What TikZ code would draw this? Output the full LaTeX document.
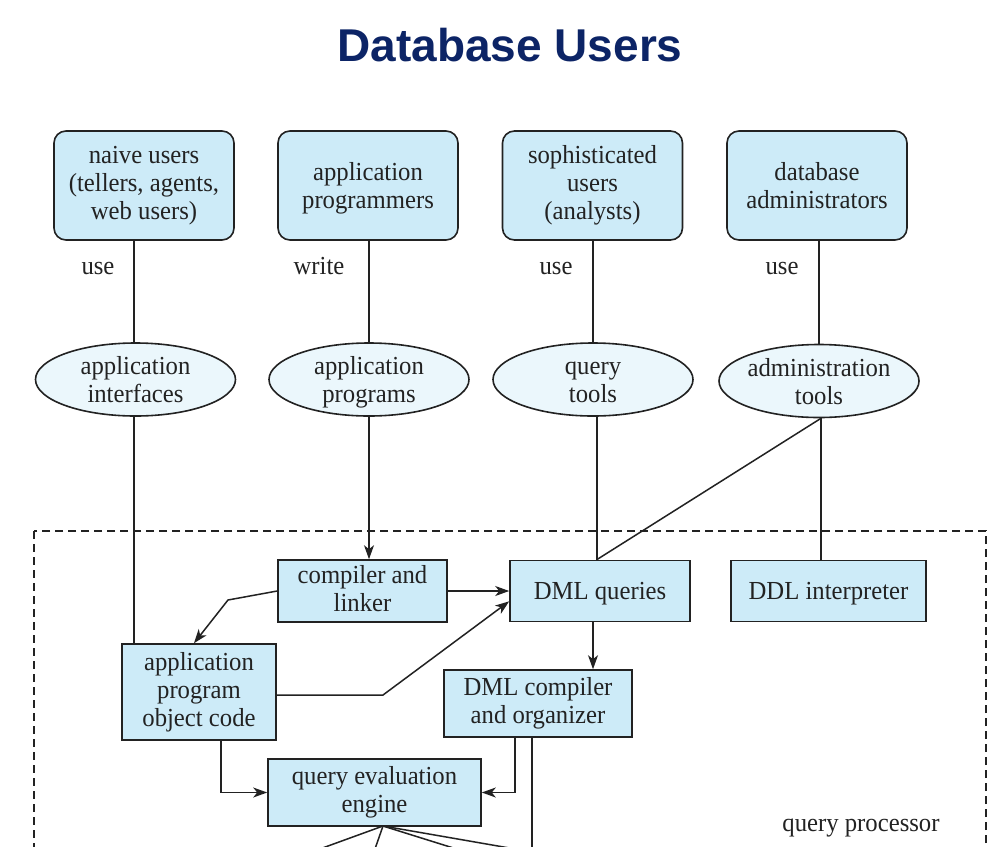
\documentclass[tikz,border=0pt]{standalone}
\usepackage{fontspec}
\setmainfont{Liberation Serif}[FakeStretch=0.95]
\newfontfamily\titlefont{Liberation Sans}
\usetikzlibrary{shapes.geometric,arrows.meta}
\definecolor{titleblue}{RGB}{12,36,102}
\definecolor{boxfill}{RGB}{205,235,248}
\definecolor{ellfill}{RGB}{235,247,252}
\definecolor{ink}{RGB}{34,34,34}
\tikzset{
  txt/.style={font=\fontsize{26}{28}\selectfont, text=ink, align=center},
  sone/.style={execute at begin node={\rule{0pt}{23pt}}, execute at end node={\rule[-6pt]{0pt}{6pt}}},
  stwo/.style={execute at begin node={\rule{0pt}{52pt}}, execute at end node={\rule[-6pt]{0pt}{6pt}}},
  stwob/.style={execute at begin node={\rule{0pt}{48pt}}, execute at end node={\rule[-8pt]{0pt}{8pt}}},
  sthree/.style={execute at begin node={\rule{0pt}{76pt}}, execute at end node={\rule[-8pt]{0pt}{8pt}}},
  userbox/.style={txt, draw=ink, line width=1.6pt, fill=boxfill, rounded corners=12pt, minimum width=180pt, minimum height=109pt, inner sep=0pt},
  toolell/.style={txt, stwo, ellipse, draw=ink, line width=1.6pt, fill=ellfill, minimum width=200pt, minimum height=73pt, inner xsep=-10pt, inner ysep=-8pt},
  procbox/.style={txt, draw=ink, line width=1.6pt, fill=boxfill, inner sep=0pt},
  conn/.style={draw=ink, line width=1.5pt},
  arr/.style={conn, -{Stealth[length=14pt,width=10pt,inset=4pt]}},
  lbl/.style={txt, sone, inner sep=0pt},
}
\begin{document}
\begin{tikzpicture}[x=1pt,y=-1pt]
\useasboundingbox (0,0) rectangle (995,846);
\clip (0,0) rectangle (995,846);
\fill[white] (0,0) rectangle (995,846);

\node[font=\titlefont\bfseries\fontsize{46}{50}\selectfont, text=titleblue] (title) at (510,45) {Database Users};

% user boxes
\node[userbox, sthree] (naive) at (144,185.5) {naive users\\(tellers, agents,\\web users)};
\node[userbox, stwo] (aprogrammers) at (368,185.5) {application\\programmers};
\node[userbox, sthree] (soph) at (592.5,185.5) {sophisticated\\users\\(analysts)};
\node[userbox, stwo] (dba) at (817,185.5) {database\\administrators};

% labels
\node[lbl] (use1) at (98,265.5) {use};
\node[lbl] (write) at (319,265.5) {write};
\node[lbl] (use2) at (556,265.5) {use};
\node[lbl] (use3) at (782,265.5) {use};

% ellipses
\node[toolell] (appint) at (135.5,379.5) {application\\interfaces};
\node[toolell] (appprog) at (369,379.5) {application\\programs};
\node[toolell] (qtools) at (593,379.5) {query\\tools};
\node[toolell] (admin) at (819,381) {administration\\tools};

% query processor region
\draw[ink, line width=1.4pt, dash pattern=on 8pt off 5pt] (34,531) rectangle (986,900);
\node[lbl] (qp) at (861,823.2) {query processor};

% processing boxes
\node[procbox, stwob, minimum width=169pt, minimum height=62pt] (compiler) at (362.5,591) {compiler and\\linker};
\node[procbox, sone, minimum width=180pt, minimum height=61pt] (dmlq) at (600,590.8) {DML queries};
\node[procbox, sone, minimum width=195pt, minimum height=61pt] (ddl) at (828.5,590.8) {DDL interpreter};
\node[procbox, sthree, minimum width=154pt, minimum height=96pt] (appobj) at (199,692) {application\\program\\object code};
\node[procbox, stwob, minimum width=188pt, minimum height=67pt] (dmlc) at (538,703.5) {DML compiler\\and organizer};
\node[procbox, stwob, minimum width=213pt, minimum height=67pt] (qeval) at (374.5,792.5) {query evaluation\\engine};

% connectors top
\draw[conn] ([xshift=-1.5pt]appint.north |- naive.south) -- ([xshift=-1.5pt]appint.north);
\draw[conn] (aprogrammers.south -| appprog.north) -- (appprog.north);
\draw[conn] (soph.south -| qtools.north) -- (qtools.north);
\draw[conn] (dba.south -| admin.north) -- (admin.north);

\draw[conn] ([xshift=-1.5pt]appint.south) -- ([xshift=-1.5pt]appint.south |- appobj.north);
\draw[arr] (appprog.south) -- (appprog.south |- compiler.north);
\draw[conn] ([xshift=4pt]qtools.south) -- ([xshift=4pt]qtools.south |- dmlq.north);
\draw[conn] ([xshift=2pt]admin.south) -- ([xshift=2pt]admin.south |- ddl.north);
\draw[conn] ([xshift=2pt]admin.south) -- ([xshift=4pt]qtools.south |- dmlq.north);

% inside
\draw[arr] (compiler.east) -- (dmlq.west |- compiler.east);
\coordinate (k1) at (228,600);
\draw[arr] (compiler.west) -- (k1) -- ([xshift=-5pt]appobj.north);
\coordinate (k2) at (383,695);
\draw[arr] ([yshift=-3pt]appobj.east) -- (k2) -- ([yshift=-10.5pt]dmlq.west);
\draw[arr] ([xshift=22pt]appobj.south) |- (qeval.west);
\draw[arr] ([xshift=-23pt]dmlc.south) |- (qeval.east);
\draw[arr] ([xshift=-7pt]dmlq.south) -- ([xshift=-7pt]dmlq.south |- dmlc.north);
\coordinate (d0) at (532,900);
\draw[conn] ([xshift=-6pt]dmlc.south) -- (d0);

% lines leaving the engine
\coordinate (apex) at (383,826);
\coordinate (e1) at (273,866);
\coordinate (e2) at (369,866);
\coordinate (e3) at (511,866);
\coordinate (e4) at (613,866);
\draw[conn] (apex) -- (e1);
\draw[conn] (apex) -- (e2);
\draw[conn] (apex) -- (e3);
\draw[conn] (apex) -- (e4);
\end{tikzpicture}
\end{document}
